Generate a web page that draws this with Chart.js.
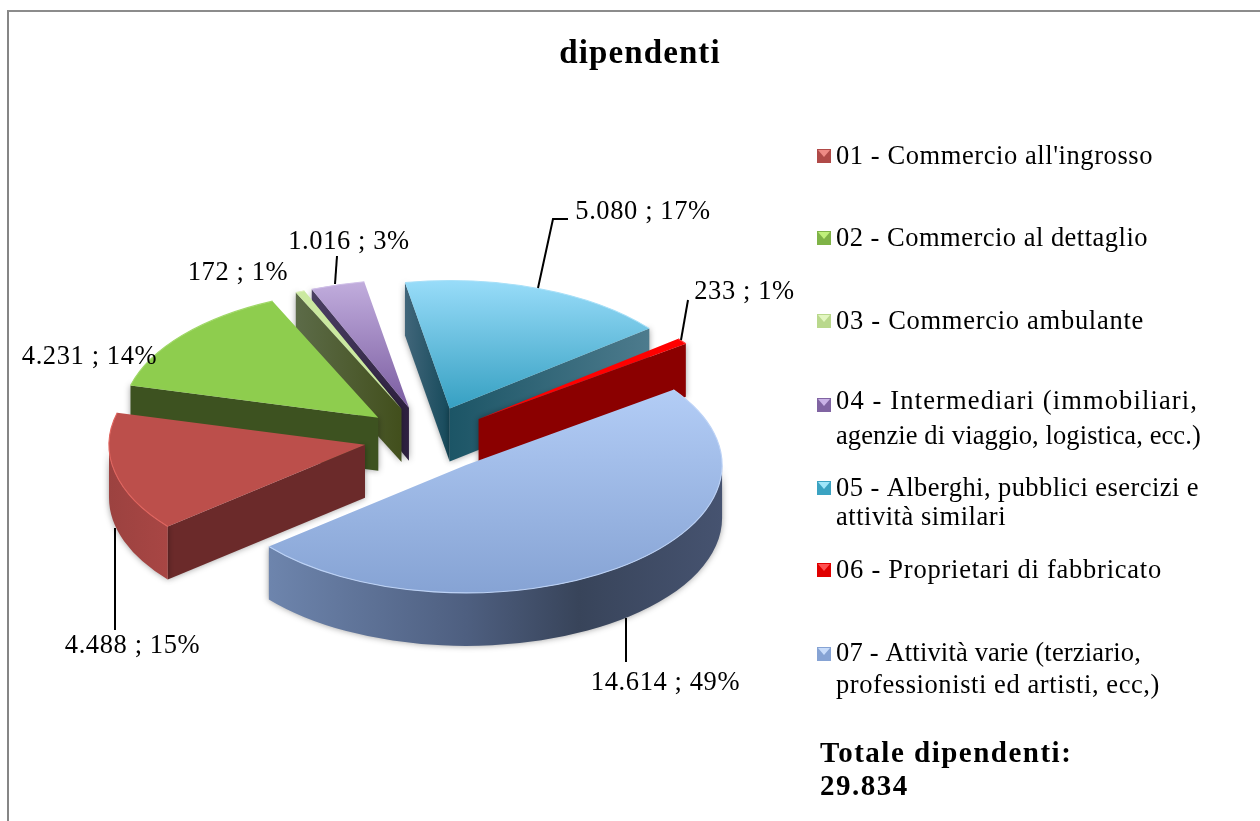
<!DOCTYPE html>
<html>
<head>
<meta charset="utf-8">
<title>dipendenti</title>
<script src="https://cdn.jsdelivr.net/npm/chart.js@4"></script>
<style>
html,body{margin:0;padding:0;background:#fff;overflow:hidden}
#frame{position:absolute;left:7px;top:10px;width:1260px;height:830px;border-left:2px solid #868686;border-top:2px solid #8c8c8c}
#wrap{position:absolute;left:0;top:0;width:1260px;height:821px}
</style>
</head>
<body>
<div id="frame"></div>
<div id="wrap"><canvas id="c" width="1260" height="821"></canvas></div>
<script>
const chartTitle = 'dipendenti';
const categories = ["01 - Commercio all'ingrosso","02 - Commercio al dettaglio","03 - Commercio ambulante","04 - Intermediari (immobiliari, agenzie di viaggio, logistica, ecc.)","05 - Alberghi, pubblici esercizi e attività similari","06 - Proprietari di fabbricato","07 - Attività varie (terziario, professionisti ed artisti, ecc,)"];
const values = [4488,4231,172,1016,5080,233,14614];
const totalLabel = 'Totale dipendenti:';

// legend line breaks
const legendLines = [["01 - Commercio all'ingrosso"],["02 - Commercio al dettaglio"],["03 - Commercio ambulante"],["04 - Intermediari (immobiliari,","agenzie di viaggio, logistica, ecc.)"],["05 - Alberghi, pubblici esercizi e","attività similari"],["06 - Proprietari di fabbricato"],["07 - Attività varie (terziario,","professionisti ed artisti, ecc,)"]];
const legendY = [[157],[239],[322],[402,437],[489,518],[571],[654,686]];
const legendRight = [[1153],[1148],[1144],[1198,1201],[1199,1006],[1162],[1141,1160]];
const legendMarkerY = [156,238,321,405,488,570,654];

// colours
const topFrom = ['#bc4f4b','#8ecd4e','#cbe9a0','#c2aede','#98dcf9','#ff0000','#b3cdf6'];
const topTo   = ['#bc4f4b','#8ecd4e','#cbe9a0','#7a5ca0','#36a0c2','#ff0000','#86a3d4'];
const gradRange = [[-1,1],[-1,1],[-1,1],[-1,0],[-1,0],[-1,1],[-0.6,1]];
const startFace = [['#6b2a2a','#6b2a2a'],['#3d5220','#3d5220'],['#5c6b48','#424f1c'],['#4a3f62','#2e2040'],['#41667a','#164a5b'],['#8b0000','#8b0000'],['#3a4660','#3a4660']];
const endFace   = [['#6b2a2a','#6b2a2a'],['#3d5220','#3d5220'],['#424f1c','#424f1c'],['#2e2040','#2e2040'],['#1c5566','#4d7b8d'],['#8b0000','#8b0000'],['#3a4660','#3a4660']];
const outerStops = [['#9c4240','#a84644'],['#3d5220','#3d5220'],['#424f1c','#424f1c'],['#2e2040','#2e2040'],['#1c5566','#1c5566'],['#8b0000','#8b0000'],['#7189b2','#3a4660']];
const rimColor = ['#e0645e','#a0d868','#dcf0b8','#d0c0e8','#a8e0f8','#ff4040','#bcd2f6'];
const markerBase = ['#b04a48','#7fb347','#b9d88c','#8064a2','#3ba3c2','#e00000','#86a3d4'];
const markerLight = ['#ee8a85','#bff07a','#e2f6c0','#c9b2e6','#a0e6fa','#ff5050','#c8dcfa'];

// pie layout
const CX = 426.5, CY = 438, SQUASH = 0.5, EXPLODE = 63, DEPTH = 53, RADIUS = 256;
const nudge = [[0,0],[0,0],[0,0],[0,0],[1,0],[2,0],[1,2]];
const drawOrder = [3,2,1,0,4,5,6];
const SERIF = '"Liberation Serif", serif';
const LABEL_FONT = '26.5px ' + SERIF;
const LABEL_SPACING = '0.6px';

// data label anchors (text centre) and leader lines
const labelPos = [[132.5,646],[89.5,357],[238,273],[349,242],[643,212],[744.5,292],[665.5,683]];
const leaders = [[[115,528],[115,630]],null,null,[[335,284],[337,256]],[[538,288],[553,219],[568,219]],[[681,340],[688,300]],[[626,618],[626,662]]];

const total = values.reduce((a,b)=>a+b,0);
const fmt = v => String(v).replace(/\B(?=(\d{3})+$)/g,'.');

function topColor(context){
  const i = context.dataIndex, area = context.chart.chartArea;
  if(!area) return topFrom[i];
  const mid = (area.top+area.bottom)/2;
  const g = context.chart.ctx.createLinearGradient(0,mid+RADIUS*gradRange[i][0],0,mid+RADIUS*gradRange[i][1]);
  g.addColorStop(0,topFrom[i]); g.addColorStop(1,topTo[i]);
  return g;
}

const pie3d = {
  id:'pie3d',
  beforeDraw(chart){ chart.ctx.letterSpacing='1.1px'; },
  beforeDatasetDraw(chart,args){
    const ctx = chart.ctx, arcs = args.meta.data;
    drawOrder.forEach(i=>{
      const arc = arcs[i];
      const a0 = arc.startAngle, a1 = arc.endAngle, R = arc.outerRadius, m = (a0+a1)/2;
      const ox = CX+nudge[i][0]+EXPLODE*Math.cos(m), oy = CY+nudge[i][1]+SQUASH*EXPLODE*Math.sin(m);
      const px = a => ox+R*Math.cos(a), py = a => oy+SQUASH*R*Math.sin(a);
      const hgrad = (x0,x1,stops)=>{const g=ctx.createLinearGradient(x0,0,x1===x0?x0+1:x1,0);g.addColorStop(0,stops[0]);g.addColorStop(1,stops[1]);return g;};
      ctx.save();
      ctx.shadowColor='rgba(0,0,0,0.38)'; ctx.shadowBlur=6;
      if(Math.cos(a0)<0){
        ctx.fillStyle=hgrad(Math.min(ox,px(a0)),Math.max(ox,px(a0)),startFace[i]);
        ctx.beginPath();ctx.moveTo(ox,oy);ctx.lineTo(px(a0),py(a0));ctx.lineTo(px(a0),py(a0)+DEPTH);ctx.lineTo(ox,oy+DEPTH);ctx.closePath();ctx.fill();
      }
      if(Math.cos(a1)>0){
        ctx.fillStyle=hgrad(Math.min(ox,px(a1)),Math.max(ox,px(a1)),endFace[i]);
        ctx.beginPath();ctx.moveTo(ox,oy);ctx.lineTo(px(a1),py(a1));ctx.lineTo(px(a1),py(a1)+DEPTH);ctx.lineTo(ox,oy+DEPTH);ctx.closePath();ctx.fill();
      }
      for(let k=0;k<2;k++){
        const s=Math.max(a0,2*k*Math.PI), e=Math.min(a1,(2*k+1)*Math.PI);
        if(e<=s) continue;
        if(i===6){
          const gg=ctx.createLinearGradient(ox-R,0,ox+R,0);
          gg.addColorStop(0.07,'#7189b2');gg.addColorStop(0.5,'#4e5f80');gg.addColorStop(0.72,'#38445a');gg.addColorStop(1,'#465370');
          ctx.fillStyle=gg;
        } else {
          const g=ctx.createLinearGradient(px(e),0,px(s),0);
          g.addColorStop(0,outerStops[i][0]);g.addColorStop(1,outerStops[i][1]);
          ctx.fillStyle=g;
        }
        ctx.beginPath();ctx.ellipse(ox,oy,R,R*SQUASH,0,s,e);ctx.ellipse(ox,oy+DEPTH,R,R*SQUASH,0,e,s,true);ctx.closePath();ctx.fill();
      }
      ctx.restore();
      // top face: the library's own arc element, tilted and pushed out
      ctx.save();
      ctx.translate(ox,oy);ctx.scale(1,SQUASH);ctx.translate(-arc.x,-arc.y);
      arc.draw(ctx);
      ctx.restore();
      ctx.save();
      ctx.strokeStyle=rimColor[i];ctx.lineWidth=1.1;
      ctx.beginPath();ctx.ellipse(ox,oy,R,R*SQUASH,0,a0,a1);ctx.stroke();
      ctx.restore();
    });
    return false;
  },
  afterDraw(chart){
    const ctx = chart.ctx;
    ctx.save();
    // leader lines
    ctx.strokeStyle='#000';ctx.lineWidth=2;
    leaders.forEach(l=>{ if(!l) return; ctx.beginPath();l.forEach((p,k)=>k?ctx.lineTo(p[0],p[1]):ctx.moveTo(p[0],p[1]));ctx.stroke();});
    // data labels
    ctx.letterSpacing=LABEL_SPACING;
    ctx.fillStyle='#000';ctx.font=LABEL_FONT;ctx.textAlign='center';ctx.textBaseline='middle';
    values.forEach((v,i)=>{
      ctx.fillText(fmt(v)+' ; '+Math.round(v/total*100)+'%',labelPos[i][0],labelPos[i][1]);
    });
    // legend
    ctx.textAlign='left';
    categories.forEach((c,i)=>{
      const y=legendMarkerY[i], x=817, s=14;
      ctx.fillStyle=markerBase[i];ctx.fillRect(x,y-s/2,s,s);
      ctx.fillStyle=markerLight[i];ctx.beginPath();ctx.moveTo(x+1,y-s/2+1);ctx.lineTo(x+s-1,y-s/2+1);ctx.lineTo(x+s/2,y+1);ctx.closePath();ctx.fill();
      ctx.fillStyle='#000';
      legendLines[i].forEach((t,k)=>{
        ctx.letterSpacing='0px';
        const w=ctx.measureText(t).width;
        ctx.letterSpacing=((legendRight[i][k]-836-w)/t.length).toFixed(2)+'px';
        ctx.fillText(t,836,legendY[i][k]);
      });
    });
    // total
    ctx.font='bold 29px '+SERIF;
    ctx.letterSpacing='1.5px';
    ctx.fillText(totalLabel,820,755);
    ctx.fillText(fmt(total),820,788);
    ctx.restore();
    ctx.letterSpacing='0px';
  }
};

new Chart(document.getElementById('c'),{
  type:'pie',
  data:{labels:categories,datasets:[{data:values,backgroundColor:topColor,borderWidth:0,radius:RADIUS,clip:false}]},
  plugins:[pie3d],
  options:{
    responsive:false,animation:false,rotation:230.4,
    layout:{padding:{left:20,right:0,top:0,bottom:0}},
    plugins:{
      legend:{display:false},tooltip:{enabled:false},
      title:{display:true,text:chartTitle,color:'#000',font:{family:SERIF,size:33,weight:'bold'},padding:{top:35,bottom:10}}
    }
  }
});
</script>
</body>
</html>
